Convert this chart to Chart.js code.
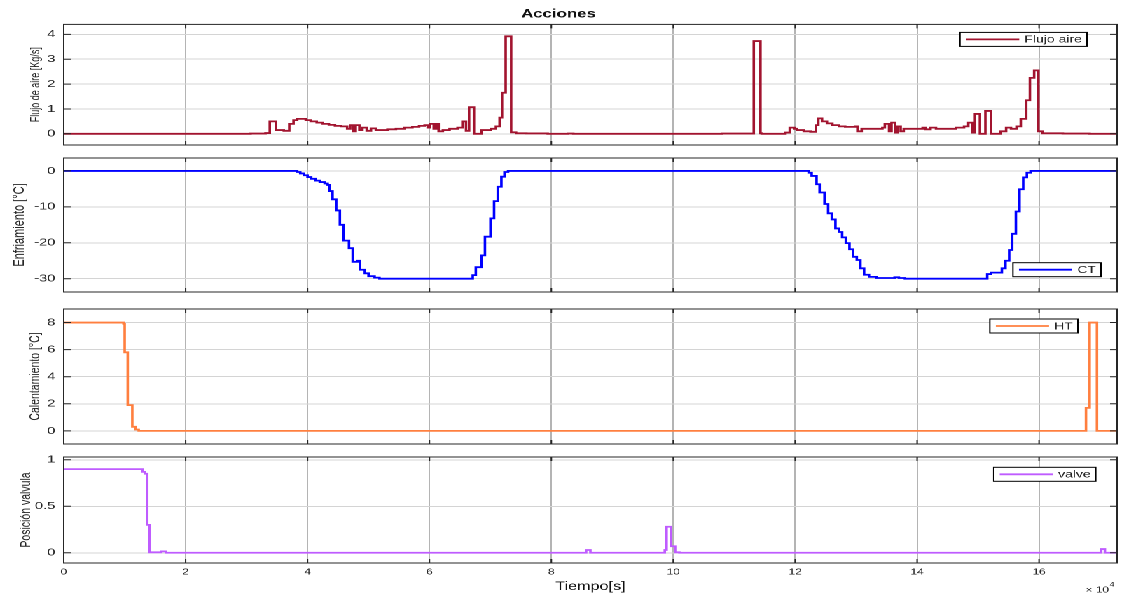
<!DOCTYPE html>
<html lang="es">
<head>
<meta charset="UTF-8">
<title>Acciones</title>
<style>
  html, body { margin: 0; padding: 0; background: #fff; overflow: hidden; }
  /* the figure is drawn narrow and then stretched sideways, like the source picture */
  #stage {
    position: absolute; left: 0; top: 0;
    width: 801px; height: 596px;
    transform: scaleX(1.4007); transform-origin: 0 0;
  }
  #stage canvas { position: absolute; left: 0; }
</style>
<script src="https://cdn.jsdelivr.net/npm/chart.js"></script>
</head>
<body>
<div id="stage">
  <canvas id="c1" width="801" height="148" style="top:0px"></canvas>
  <canvas id="c2" width="801" height="141" style="top:154px"></canvas>
  <canvas id="c3" width="801" height="142" style="top:305px"></canvas>
  <canvas id="c4" width="801" height="143" style="top:453px"></canvas>
</div>
<script>
// ---- data (time in seconds) ----
const xMax = 172800;
const xTicks = [0, 20000, 40000, 60000, 80000, 100000, 120000, 140000, 160000];

const tFlujo = [0, 30650, 33100, 33800, 34800, 36100, 37000, 37700, 38300, 39700, 40500, 41500, 42500, 43500, 44500, 45500,
  46500, 47000, 47500, 47900, 48500, 49000, 49700, 50400, 51200,
  52000, 53100, 54500, 55900, 57200, 58300, 59200, 59700, 60100, 60700, 61100, 61500, 62200, 63300, 64600, 65400, 66000,
  66500, 67300, 68500, 70100, 70900, 71500, 71900, 72500, 73400, 74200, 75900, 79400, 82700, 83600,
  108000, 112400, 113200, 114300, 114500,
  118400, 119100, 119900, 120300, 121400, 122500, 123400, 123800, 124400, 125200, 126100, 127200, 128200, 129800, 130200,
  130900, 134300, 134700, 135400, 135800, 136400, 136800, 137300, 137800, 140900, 141400, 142200, 143100, 146400, 147700,
  148400, 149100, 149500, 150300, 151200, 152100, 153700, 154600, 155400, 156300, 157000, 157900, 158500, 159200, 159900,
  160600, 163900, 168300, 172800];
const flujo = [0, 0.01, 0.03, 0.5, 0.15, 0.12, 0.4, 0.55, 0.6, 0.55, 0.5, 0.45, 0.4, 0.36, 0.32, 0.3,
  0.2, 0.35, 0.1, 0.35, 0.15, 0.25, 0.12, 0.22, 0.15,
  0.15, 0.18, 0.2, 0.25, 0.28, 0.32, 0.35, 0.25, 0.4, 0.2, 0.4, 0.1, 0.15, 0.2, 0.25, 0.5, 0.12,
  1.07, 0.0, 0.15, 0.2, 0.3, 0.65, 1.65, 3.92, 0.06, 0.02, 0.015, 0.0, 0.01, 0,
  0.01, 0.01, 3.73, 0.02, 0,
  0.05, 0.25, 0.2, 0.15, 0.1, 0.08, 0.35, 0.62, 0.5, 0.42, 0.35, 0.3, 0.28, 0.3, 0.1,
  0.2, 0.25, 0.4, 0.1, 0.45, 0.05, 0.3, 0.1, 0.2, 0.25, 0.18, 0.25, 0.2, 0.25, 0.3,
  0.45, 0.05, 0.8, 0.0, 0.92, 0.0, 0.1, 0.25, 0.2, 0.3, 0.6, 1.35, 2.25, 2.55, 0.1,
  0.02, 0.01, 0, 0];

const tCT = [0, 38300, 38800, 39400, 40000, 40600, 41300, 42000, 42800, 43300, 43600, 44100, 44700, 45300, 45900, 46800,
  47400, 48200, 48600, 49400, 50000, 51000, 51800, 67100, 67600, 68500, 69100, 70000, 70600, 71200, 71800, 72300, 72900,
  122200, 122700, 123500, 124000, 124800, 125400, 126000, 126600, 127200, 127700, 128300, 128900, 129500, 130100, 130700,
  131300, 132100, 133300, 136300, 137000, 138000, 151500, 152100, 153900, 154500, 155100, 155600, 156200, 156800, 157400,
  158000, 158600, 172800];
const ct = [0, -0.3, -0.7, -1.2, -1.7, -2.2, -2.7, -3.1, -3.5, -3.9, -5.6, -7.9, -11, -15, -19.4, -21.5,
  -25.3, -25, -27.5, -28.5, -29.3, -29.7, -30, -29, -26.8, -23.5, -18.3, -13.2, -8.4, -4.4, -1.6, -0.3, 0,
  -0.5, -1.4, -3.7, -6, -9.2, -11.8, -13.5, -16, -17, -18.5, -20.1, -21.8, -23.9, -24.8, -27.1,
  -28.9, -29.5, -29.8, -29.6, -29.8, -30, -28.7, -28.3, -27.1, -25, -22, -17.5, -11.3, -5.1, -1.8,
  -0.5, 0, 0];

const tHT = [0, 9800, 10000, 10500, 11250, 11800, 12300, 167700, 168300, 169500, 172800];
const ht = [8, 7.9, 5.8, 1.9, 0.3, 0.1, 0, 1.7, 8, 0, 0];

const tValve = [0, 12900, 13300, 13700, 14100, 16000, 16800, 85700, 86400, 98600, 98900, 99600, 100300, 101000,
  170200, 170800, 172800];
const valve = [0.9, 0.87, 0.85, 0.3, 0.005, 0.015, 0, 0.03, 0, 0.03, 0.28, 0.07, 0.005, 0,
  0.04, 0, 0];

const yTicks1 = [0, 1, 2, 3, 4];
const yTicks2 = [-30, -20, -10, 0];
const yTicks3 = [0, 2, 4, 6, 8];
const yTicks4 = [0, 0.5, 1];

// ---- styling ----
const FONT = '"Liberation Sans", Arial, Helvetica, sans-serif';
const INK = '#262626';

// MATLAB-like box, inward ticks and boxed legend
const matlabBox = {
  id: 'mbox',
  afterDraw(chart, args, o) {
    const ctx = chart.ctx, a = chart.chartArea;
    const x = chart.scales.x, y = chart.scales.y;
    ctx.save();
    ctx.strokeStyle = INK;
    ctx.lineWidth = 1;
    ctx.beginPath();
    x.ticks.forEach(t => {
      const px = x.getPixelForValue(t.value);
      ctx.moveTo(px, a.top); ctx.lineTo(px, a.top + 4);
      ctx.moveTo(px, a.bottom); ctx.lineTo(px, a.bottom - 4);
    });
    y.ticks.forEach(t => {
      const py = y.getPixelForValue(t.value);
      ctx.moveTo(a.left, py); ctx.lineTo(a.left + 5, py);
      ctx.moveTo(a.right, py); ctx.lineTo(a.right - 5, py);
    });
    ctx.stroke();
    ctx.strokeRect(a.left, a.top, a.right - a.left, a.bottom - a.top);

    // legend
    const ds = chart.data.datasets[0];
    ctx.font = '10px ' + FONT;
    const h = 14;
    const w = 4.3 + 38 + 3.6 + ctx.measureText(ds.label).width + 3.6;
    const bx = a.right - o.right - w;
    const by = o.bottom != null ? a.bottom - o.bottom - h : a.top + o.top;
    ctx.fillStyle = '#fff';
    ctx.fillRect(bx, by, w, h);
    ctx.strokeStyle = '#000';
    ctx.lineWidth = 1;
    ctx.strokeRect(bx, by, w, h);
    ctx.strokeStyle = ds.borderColor;
    ctx.lineWidth = ds.borderWidth;
    ctx.beginPath();
    ctx.moveTo(bx + 4.3, by + h / 2);
    ctx.lineTo(bx + 4.3 + 38, by + h / 2);
    ctx.stroke();
    ctx.fillStyle = INK;
    ctx.textBaseline = 'middle';
    ctx.textAlign = 'left';
    ctx.fillText(ds.label, bx + 4.3 + 38 + 3.6, by + h / 2 + 0.5);

    // x10^4 exponent under the last panel
    if (o.exponent) {
      ctx.font = '8.5px ' + FONT;
      ctx.fillText('\u00d7 10', 775, 137);
      const ew = ctx.measureText('\u00d7 10').width;
      ctx.font = '6px ' + FONT;
      ctx.fillText('4', 775 + ew + 0.5, 132);
    }
    ctx.restore();
  }
};

// drop the label overhang padding Chart.js adds round the plot area
function noPad(s) {
  s.paddingTop = 0; s.paddingBottom = 0; s.paddingLeft = 0; s.paddingRight = 0;
}

function panel(id, cfg) {
  const showX = !!cfg.xTitle;
  new Chart(document.getElementById(id), {
    type: 'line',
    data: {
      datasets: [{
        label: cfg.label,
        data: cfg.t.map((t, i) => ({ x: t, y: cfg.v[i] })),
        borderColor: cfg.color,
        borderWidth: 1.8,
        pointRadius: 0,
        stepped: true,
        fill: false
      }]
    },
    options: {
      responsive: false,
      devicePixelRatio: 2,
      animation: false,
      events: [],
      layout: {
        autoPadding: false,
        padding: { top: cfg.padTop, right: 3.5, bottom: showX ? 0 : 3, left: 0 }
      },
      plugins: {
        legend: { display: false },
        tooltip: { enabled: false },
        title: cfg.title ? {
          display: true, text: cfg.title, color: '#111',
          font: { family: FONT, size: 12, weight: 'bold' },
          padding: { top: 7, bottom: 3 }
        } : { display: false },
        mbox: cfg.legend
      },
      scales: {
        x: {
          type: 'linear', min: 0, max: xMax,
          afterBuildTicks: s => { s.ticks = xTicks.map(v => ({ value: v })); },
          afterFit: s => { s.height = showX ? 33 : 0; noPad(s); },
          grid: { color: '#b4b4b4', lineWidth: 1, drawTicks: false },
          border: { display: false },
          ticks: {
            display: showX, padding: 4, color: INK,
            font: { family: FONT, size: 8.5 },
            callback: v => String(v / 10000)
          },
          title: {
            display: showX, text: cfg.xTitle || '', color: '#111',
            font: { family: FONT, size: 11.5 },
            padding: { top: 0, bottom: 2.4 }
          }
        },
        y: {
          min: cfg.yMin, max: cfg.yMax,
          afterBuildTicks: s => { s.ticks = cfg.yTicks.map(v => ({ value: v })); },
          afterFit: s => { s.width = 45.5; noPad(s); },
          grid: { color: '#d4d4d4', lineWidth: 1, drawTicks: false },
          border: { display: false },
          ticks: {
            padding: 6, color: INK,
            font: { family: FONT, size: 10.5 },
            callback: v => String(v)
          },
          title: {
            display: true, text: cfg.yTitle, color: INK,
            font: { family: FONT, size: cfg.yTitleSize },
            padding: { top: cfg.yTitlePad, bottom: 0 }
          }
        }
      }
    },
    plugins: [matlabBox]
  });
}

panel('c1', {
  t: tFlujo, v: flujo, label: 'Flujo aire', color: '#A2142F',
  title: 'Acciones', padTop: 0,
  yMin: -0.45, yMax: 4.4, yTicks: yTicks1,
  yTitle: 'Flujo de aire [Kg/s]', yTitleSize: 9, yTitlePad: 20.3,
  legend: { right: 21.5, top: 8 }
});
panel('c2', {
  t: tCT, v: ct, label: 'CT', color: '#0000FF',
  padTop: 4,
  yMin: -33.7, yMax: 3.6, yTicks: yTicks2,
  yTitle: 'Enfriamiento [\u00b0C]', yTitleSize: 11, yTitlePad: 7.4,
  legend: { right: 11.5, bottom: 15.3 }
});
panel('c3', {
  t: tHT, v: ht, label: 'HT', color: '#FF7F3F',
  padTop: 4,
  yMin: -0.97, yMax: 9.0, yTicks: yTicks3,
  yTitle: 'Calentamiento [\u00b0C]', yTitleSize: 10.5, yTitlePad: 18.6,
  legend: { right: 28, top: 10 }
});
panel('c4', {
  t: tValve, v: valve, label: 'valve', color: '#BF5CFF',
  padTop: 4,
  yMin: -0.11, yMax: 1.03, yTicks: yTicks4,
  yTitle: 'Posici\u00f3n valvula', yTitleSize: 10.5, yTitlePad: 12.2,
  xTitle: 'Tiempo[s]',
  legend: { right: 15.2, top: 10.3, exponent: true }
});
</script>
</body>
</html>
